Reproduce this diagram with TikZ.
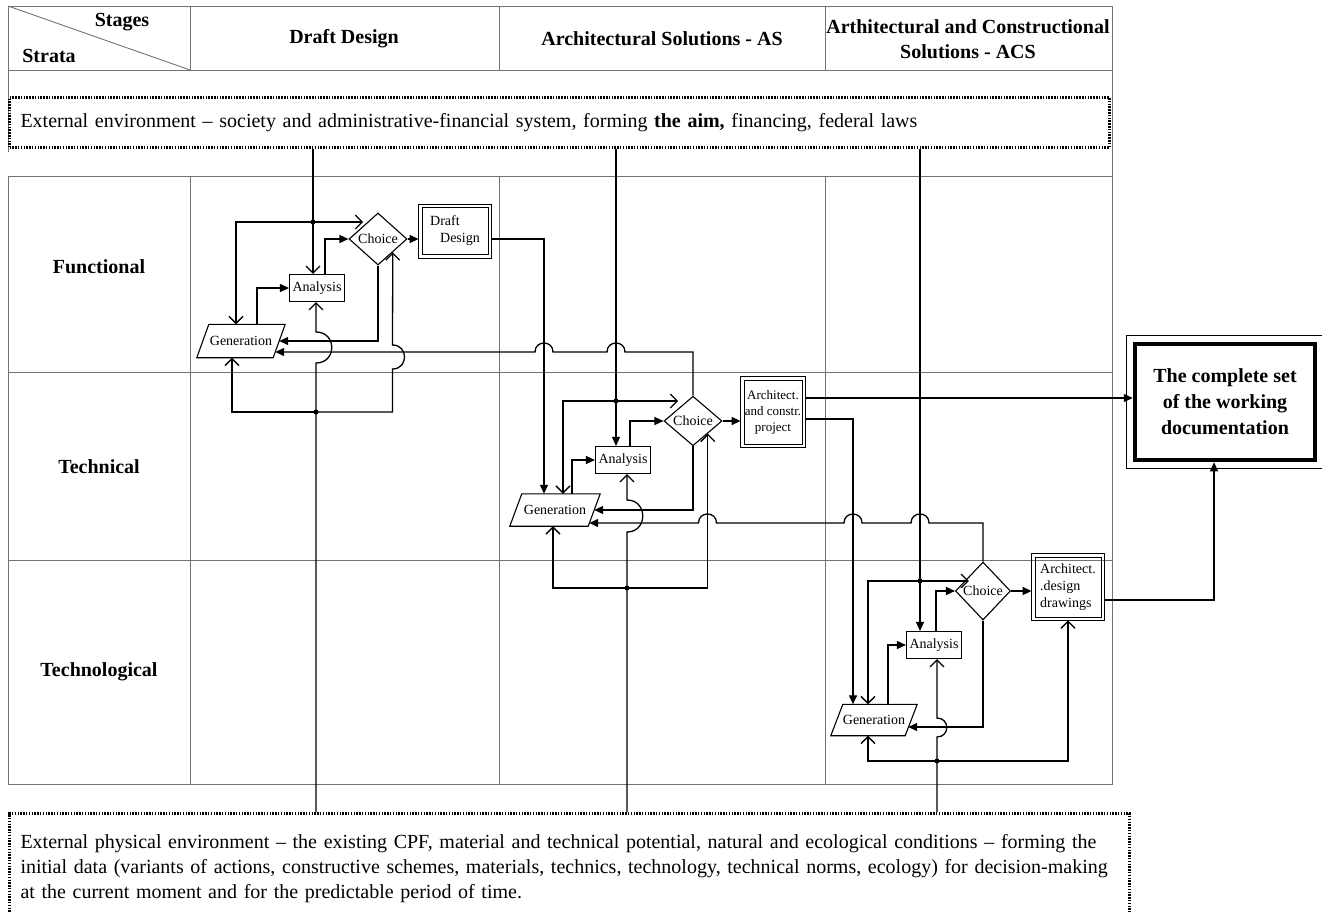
\documentclass[tikz,border=0pt]{standalone}
\usepackage{fontspec}
\setmainfont{Liberation Serif}
\usetikzlibrary{arrows.meta,shapes.geometric}
\begin{document}
\begin{tikzpicture}
	[x=1pt, y=-1pt,
	every node/.style={font=\fontsize{14}{17}\selectfont, inner sep=1pt},
	grid/.style={draw=black!55, line width=0.9pt},
	envbox/.style={draw, line width=3pt, dash pattern=on 1.5pt off 1.3pt, anchor=north west, align=left, inner xsep=11pt, font=\fontsize{20}{25}\selectfont},
	head/.style={font=\bfseries\fontsize{20}{25}\selectfont, align=center},
	link/.style={line width=1.3pt},
	fa/.style={link, -{Triangle[length=9pt,width=8pt]}},
	oa/.style={link, -{Straight Barb[length=7pt,width=14pt]}},
	gen/.style={minimum width=88, minimum height=33, inner sep=0pt},
	ana/.style={draw, line width=1.1pt, minimum width=55, minimum height=27, inner sep=0pt},
	cho/.style={draw, line width=1.1pt, diamond, minimum width=58, minimum height=52, inner sep=0pt},
	res/.style={draw, line width=0.8pt, inner sep=0pt, outer sep=3.4pt}]
	\useasboundingbox (0,0) rectangle (1322,912);
	\draw[grid] (8,176) -- (8,784) -- (1112,784) -- (1112,6) -- (8,6) -- (8,152);
	\draw[grid] (8,70) -- (1112,70) (8,176) -- (1112,176) (8,372) -- (1112,372) (8,560) -- (1112,560);
	\foreach \x in {190,499,825}
		\draw[grid] (\x,6) -- (\x,70) (\x,176) -- (\x,784);
	\draw[grid] (8,6) -- (190,70);
	\node[head] (stages) at (122,22) {Stages};
	\node[head] (strata) at (49,56) {Strata};
	\node[head] (stage1) at (344,39) {Draft Design};
	\node[head] (stage2) at (662,39) {Architectural Solutions - AS};
	\node[head] (stage3) at (968,39) {Arthitectural and Constructional\\Solutions - ACS};
	\node[head] (stratum1) at (99,267) {Functional};
	\node[head] (stratum2) at (99,467) {Technical};
	\node[head] (stratum3) at (99,672) {Technological};
	\node[envbox, text width=1078pt, minimum height=50] (envTop) at (8,96) {External environment -- society and administrative-financial system, forming \textbf{the aim,} financing, federal laws};
	\node[envbox, text width=1098pt, inner ysep=21pt] (envBot) at (8,812) {External physical environment -- the existing CPF, material and technical potential, natural and ecological conditions -- forming the\\initial data (variants of actions, constructive schemes, materials, technics, technology, technical norms, ecology) for decision-making\\at the current moment and for the predictable period of time.};
	\coordinate (j11) at (313,222);
	\coordinate (j12) at (316,412);
	\coordinate (j21) at (616,401);
	\coordinate (j22) at (627,588);
	\coordinate (j31) at (920,581);
	\coordinate (j32) at (937,761);
	\node[gen] (gen1) at (241,341) {Generation};
	\node[ana] (an1) at (317,288) {Analysis};
	\node[cho] (ch1) at (378,239) {Choice};
	\node[res, minimum width=66, minimum height=47, align=left] (res1) at (455,231) {Draft\\\hspace*{10pt}Design};
	\node[gen, minimum width=90, minimum height=32] (gen2) at (555,510) {Generation};
	\node[ana] (an2) at (623,460) {Analysis};
	\node[cho, minimum height=49] (ch2) at (693,421) {Choice};
	\node[res, minimum width=58, minimum height=64, align=center, font=\fontsize{13}{16}\selectfont] (res2) at (773,412) {Architect.\\and constr.\\project};
	\node[gen, minimum width=86, minimum height=31] (gen3) at (874,720) {Generation};
	\node[ana] (an3) at (934,645) {Analysis};
	\node[cho, minimum width=55, minimum height=58] (ch3) at (983,591) {Choice};
	\node[res, minimum width=66, minimum height=60, align=left] (res3) at (1068,587) {Architect.\\.design\\drawings};
	\foreach \g in {gen1,gen2,gen3}
		\draw[line width=1.1pt] ([xshift=12pt]\g.north west) -- (\g.north east) -- ([xshift=-12pt]\g.south east) -- (\g.south west) -- cycle;
	\foreach \r in {res1,res2,res3}
		\draw[line width=0.8pt] (\r.north west) rectangle (\r.south east);
	\node[draw, line width=4.5pt, minimum width=180, minimum height=116, font=\bfseries\fontsize{20}{26}\selectfont, align=center] (done) at (1225,402) {The complete set\\of the working\\documentation};
	\draw[line width=0.8pt] ([shift={(-6pt,6pt)}]done.north west) rectangle ([shift={(8pt,-6pt)}]done.south east);
	\draw[oa] (j11 |- envTop.south) -- (j11 |- an1.north);
	\fill (j11) circle (2.5pt);
	\draw[oa] (j11) -| ([xshift=-5pt]gen1.north);
	\draw[oa] (j11) -- (j11 -| ch1.north west);
	\draw[fa] ([xshift=8pt]an1.north) |- (ch1.west);
	\draw[fa] (ch1.east) -- (ch1.east -| res1.west);
	\draw[fa] ([xshift=16pt]gen1.north) |- (an1.west);
	\draw[fa] (ch1.south) |- ([xshift=-6pt]gen1.east);
	\draw[oa] (j12 |- envBot.north) -- (316,363) .. controls +(21,0) and +(21,0) .. (316,332) -- (j12 |- an1.south);
	\fill (j12) circle (2.5pt);
	\draw[oa] (j12) -| ([xshift=-9pt]gen1.south);
	\draw[oa] (j12) -| (392.5,369) .. controls +(16,0) and +(16,0) .. (392.5,345) -- (ch1.south east);
	\draw[fa] (j21 |- envTop.south) -- (j21 |- an2.north);
	\fill (j21) circle (2.5pt);
	\draw[oa] (j21) -| ([xshift=8pt]gen2.north);
	\draw[oa] (j21) -- (j21 -| ch2.north west);
	\draw[fa] ([xshift=7pt]an2.north) |- (ch2.west);
	\draw[fa] (ch2.east) -- (ch2.east -| res2.west);
	\draw[fa] ([xshift=17pt]gen2.north) |- (an2.west);
	\draw[fa] (ch2.south) |- ([xshift=-6pt]gen2.east);
	\draw[fa] (ch1.east -| res1.east) -| ([xshift=-11pt]gen2.north);
	\draw[fa] (ch2.north) |- (625,352) .. controls +(0,-12) and +(0,-12) .. (607,352) -- (553,352) .. controls +(0,-12) and +(0,-12) .. (535,352) -- ([xshift=-10pt,yshift=-11pt]gen1.east);
	\draw[oa] (j22 |- envBot.north) -- (627,532) .. controls +(21,0) and +(21,0) .. (627,500) -- (j22 |- an2.south);
	\fill (j22) circle (2.5pt);
	\draw[oa] (j22) -| ([xshift=-2pt]gen2.south);
	\draw[oa] (j22) -| (ch2.south east);
	\draw[fa] (j31 |- envTop.south) -- (j31 |- an3.north);
	\fill (j31) circle (2.5pt);
	\draw[oa] (j31) -| ([xshift=-6pt]gen3.north);
	\draw[oa] (j31) -- (j31 -| ch3.north west);
	\draw[fa] ([xshift=2pt]an3.north) |- (ch3.west);
	\draw[fa] (ch3.east) -- (ch3.east -| res3.west);
	\draw[fa] ([xshift=14pt]gen3.north) |- (an3.west);
	\draw[fa] (ch3.south) |- ([xshift=-9pt,yshift=-7pt]gen3.east);
	\draw[fa] ([yshift=-7pt]res2.east) -| ([xshift=-21pt]gen3.north);
	\draw[fa] (ch3.north) |- (929,523) .. controls +(0,-12) and +(0,-12) .. (911,523) -- (862,523) .. controls +(0,-12) and +(0,-12) .. (844,523) -- (716.5,523) .. controls +(0,-12) and +(0,-12) .. (698.5,523) -- ([xshift=-11pt,yshift=-13pt]gen2.east);
	\draw[oa] (j32 |- envBot.north) -- (937,737) .. controls +(13,0) and +(13,0) .. (937,718) -- (j32 |- an3.south);
	\fill (j32) circle (2.5pt);
	\draw[oa] (j32) -| ([xshift=-6pt]gen3.south);
	\draw[oa] (j32) -| (res3.south);
	\draw[fa] ([yshift=14pt]res2.east) -- ([yshift=14pt]res2.east -| done.west);
	\draw[fa] ([yshift=-13pt]res3.east) -| ([xshift=-11pt]done.south);
\end{tikzpicture}
\end{document}
